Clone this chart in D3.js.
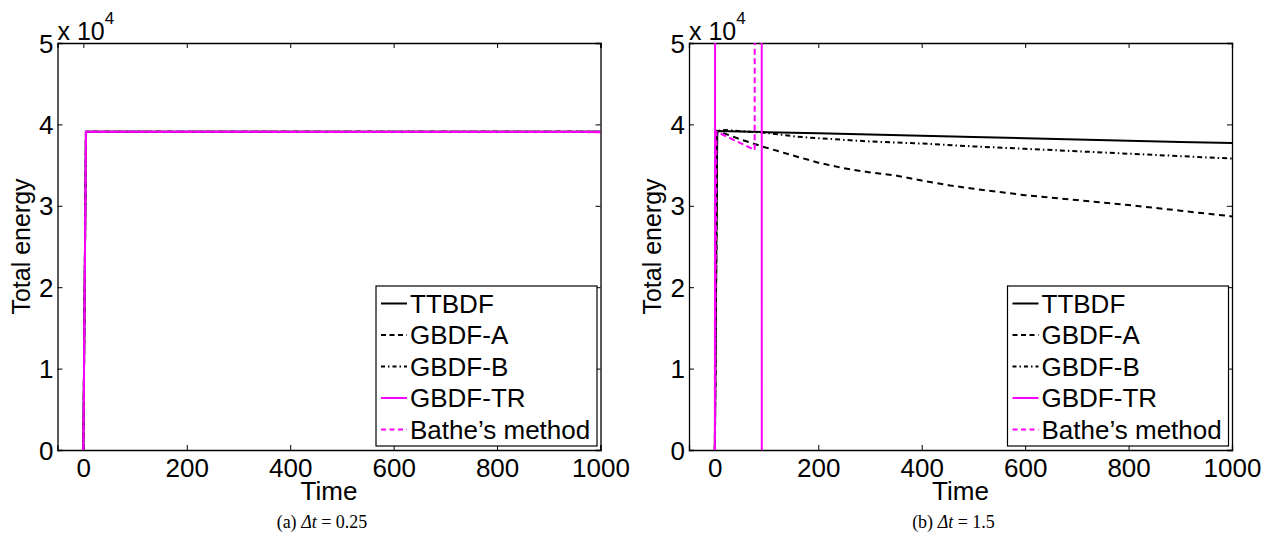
<!DOCTYPE html>
<html><head><meta charset="utf-8">
<script src="https://cdn.jsdelivr.net/npm/d3@7"></script>
<style>
body{margin:0;background:#fff;}
svg{display:block;}
text{font-family:"Liberation Sans",Arial,Helvetica,sans-serif;}
</style></head>
<body>
<svg id="chart" width="1271" height="545"></svg>
<script>
// ---------- data ----------
const xTicks = [0, 200, 400, 600, 800, 1000];
const yTicks = [0, 10000, 20000, 30000, 40000, 50000];
const xDomain = [-50, 1000];
const yDomain = [0, 50000];
const seriesNames = ["TTBDF", "GBDF-A", "GBDF-B", "GBDF-TR", "Bathe\u2019s method"];
const captions = ["(a) ", "(b) "];
const captionValues = ["0.25", "1.5"];

// panel (a), dt = 0.25
const aTime = [0, 5, 1000];
const aTTBDF = [0, 39100, 39100];
const aGBDFA = [0, 39100, 39100];
const aGBDFB = [0, 39100, 39100];
const aGBDFTR = [0, 39100, 39100];
const aBathe = [0, 39100, 39050];

// panel (b), dt = 1.5
const bTimeTTBDF = [0, 4.5, 100, 200, 300, 400, 500, 600, 700, 800, 900, 1000];
const bTTBDF = [0, 39200, 39050, 38900, 38750, 38600, 38450, 38300, 38150, 38000, 37850, 37700];
const bTimeGBDFA = [0, 4.5, 50, 93, 150, 200, 250, 300, 352, 400, 455, 500, 600, 700, 800, 900, 1000];
const bGBDFA = [0, 39200, 38150, 37260, 36200, 35300, 34600, 34100, 33700, 33100, 32500, 32100, 31300, 30700, 30100, 29400, 28700];
const bTimeGBDFB = [0, 4.5, 20, 100, 158, 200, 300, 400, 500, 600, 700, 800, 900, 1000];
const bGBDFB = [0, 39200, 39300, 38950, 38500, 38300, 37900, 37650, 37300, 37000, 36700, 36400, 36100, 35800];
const bTimeGBDFTR = [0, 3, 90, 91.5];
const bGBDFTR = [0, 300000, 300000, -300000];
const bTimeBathe = [0, 3, 40, 77, 78.5];
const bBathe = [0, 39100, 38000, 36850, 300000];

// ---------- styles ----------
const colors = ["#000", "#000", "#000", "#ff00ff", "#ff00ff"];
const dashes = [null, "6,4.5", "5,3,1.5,3", null, "6,3.5"];
const legendDashes = [null, "5,3.5", "4,3,1.5,3", null, "5,3.5"];

const panels = [
  {left: 57.5, series: [[aTime,aTTBDF],[aTime,aGBDFA],[aTime,aGBDFB],[aTime,aGBDFTR],[aTime,aBathe]]},
  {left: 689, series: [[bTimeTTBDF,bTTBDF],[bTimeGBDFA,bGBDFA],[bTimeGBDFB,bGBDFB],[bTimeGBDFTR,bGBDFTR],[bTimeBathe,bBathe]]}
];

const svg = d3.select("#chart");
const W = 543, plotTop = 43, plotBottom = 450;

panels.forEach((p, pi) => {
  const x = d3.scaleLinear().domain(xDomain).range([p.left, p.left + W]);
  const y = d3.scaleLinear().domain(yDomain).range([plotBottom, plotTop]);
  const g = svg.append("g");

  const clipId = "clip" + pi;
  svg.append("clipPath").attr("id", clipId).append("rect")
    .attr("x", p.left).attr("y", plotTop).attr("width", W).attr("height", plotBottom - plotTop);

  // axes: ticks inward, on all 4 sides
  const tl = 5;
  const bx = g.append("g").attr("transform", `translate(0,${plotBottom})`)
    .call(d3.axisBottom(x).tickValues(xTicks).tickSize(-tl).tickPadding(9).tickFormat(d3.format("d")));
  const tx = g.append("g").attr("transform", `translate(0,${plotTop})`)
    .call(d3.axisTop(x).tickValues(xTicks).tickSize(-tl).tickFormat(""));
  const ly = g.append("g").attr("transform", `translate(${p.left},0)`)
    .call(d3.axisLeft(y).tickValues(yTicks).tickSize(-tl).tickPadding(4).tickFormat(d => d / 10000));
  const ry = g.append("g").attr("transform", `translate(${p.left + W},0)`)
    .call(d3.axisRight(y).tickValues(yTicks).tickSize(-tl).tickFormat(""));
  [bx, tx, ly, ry].forEach(a => {
    a.select(".domain").attr("stroke", "#000").attr("stroke-width", 1.3);
    a.selectAll(".tick line").attr("stroke", "#000").attr("stroke-width", 1);
    a.selectAll("text").attr("font-size", 26).attr("fill", "#000")
      .style("font-family", '"Liberation Sans",Arial,sans-serif');
  });
  ly.selectAll("text").attr("dy", "0.35em");

  // data lines
  const lineGen = d3.line().x(d => x(d[0])).y(d => y(d[1]));
  const lg = g.append("g").attr("clip-path", `url(#${clipId})`);
  p.series.forEach((s, si) => {
    const pts = s[0].map((t, i) => [t, s[1][i]]);
    lg.append("path").datum(pts).attr("d", lineGen)
      .attr("fill", "none").attr("stroke", colors[si]).attr("stroke-width", 2)
      .attr("stroke-dasharray", dashes[si]);
  });

  // exponent label
  const ex = g.append("text").attr("x", p.left).attr("y", 40).attr("font-size", 25);
  ex.append("tspan").text("x 10");
  ex.append("tspan").attr("dy", -16).attr("font-size", 17).text("4");

  // axis labels
  g.append("text").attr("x", p.left + W / 2).attr("y", 500)
    .attr("text-anchor", "middle").attr("font-size", 26).text("Time");
  g.append("text").attr("transform", `translate(${p.left - 28},${(plotTop + plotBottom) / 2}) rotate(-90)`)
    .attr("text-anchor", "middle").attr("font-size", 25).text("Total energy");

  // legend
  const lx = p.left + W - 3.5 - 221, lyTop = 286;
  const leg = g.append("g");
  leg.append("rect").attr("x", lx).attr("y", lyTop).attr("width", 221).attr("height", 160)
    .attr("fill", "#fff").attr("stroke", "#000").attr("stroke-width", 1.2);
  seriesNames.forEach((n, i) => {
    const cy = lyTop + 17.5 + i * 31.5;
    leg.append("line").attr("x1", lx + 5).attr("x2", lx + 31).attr("y1", cy).attr("y2", cy)
      .attr("stroke", colors[i]).attr("stroke-width", 2).attr("stroke-dasharray", legendDashes[i]);
    leg.append("text").attr("x", lx + 34).attr("y", cy).attr("dy", "0.35em")
      .attr("font-size", 26).text(n);
  });

  // caption
  const cap = g.append("text").attr("x", p.left + W / 2 - 7).attr("y", 528)
    .attr("text-anchor", "middle").attr("font-size", 18)
    .style("font-family", '"Liberation Serif","DejaVu Serif",serif');
  cap.append("tspan").text(captions[pi]);
  cap.append("tspan").attr("font-style", "italic").text("\u0394t");
  cap.append("tspan").text(" = " + captionValues[pi]);
});
</script>
</body></html>
